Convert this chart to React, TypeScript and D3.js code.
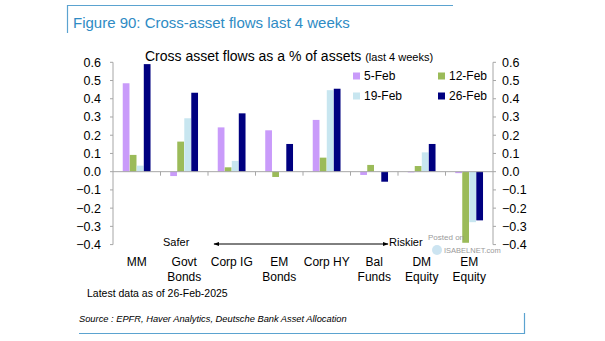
import React from "react";
import * as d3 from "d3";

const categories: string[][] = [["MM"], ["Govt", "Bonds"], ["Corp IG"], ["EM", "Bonds"], ["Corp HY"], ["Bal", "Funds"], ["DM", "Equity"], ["EM", "Equity"]];
const seriesNames = ["5-Feb", "12-Feb", "19-Feb", "26-Feb"];
const feb5 = [0.485, -0.024, 0.243, 0.227, 0.284, -0.018, -0.004, -0.008];
const feb12 = [0.092, 0.165, 0.024, -0.029, 0.077, 0.037, 0.031, -0.39];
const feb19 = [0.033, 0.293, 0.059, 0.002, 0.447, 0.002, 0.106, -0.277];
const feb26 = [0.59, 0.433, 0.32, 0.152, 0.455, -0.055, 0.152, -0.267];
const yTicks = [0.6, 0.5, 0.4, 0.3, 0.2, 0.1, 0.0, -0.1, -0.2, -0.3, -0.4];
const colors = ["#C99BFA", "#9BBB59", "#C8E6F0", "#000080"];

const W = 605, H = 341;
const FONT = "'Liberation Sans', Arial, sans-serif";

export default function App() {
  const series = [feb5, feb12, feb19, feb26];
  const left = 113, right = 493;
  const y = d3.scaleLinear().domain([-0.4, 0.6]).range([244.6, 62.3]);
  const idx = categories.map((_, i) => String(i));
  const x0 = d3.scaleBand<string>().domain(idx).range([left, right]).padding(0);
  const bw = x0.bandwidth();
  const x1 = d3.scaleBand<string>().domain(seriesNames).range([bw * 0.205, bw * 0.79]).paddingInner(0.04);
  const axisColor = "#A6A6A6";
  const fmt = d3.format(".1f");
  const y0 = y(0);

  return (
    <svg width={W} height={H} style={{ position: "absolute", left: 0, top: 0 }} fontFamily={FONT}>
      <rect width={W} height={H} fill="#fff" />
      {/* title frame */}
      <line x1={67} x2={453} y1={5.5} y2={5.5} stroke="#5BA3D0" strokeWidth={1.2} />
      <line x1={67.5} x2={67.5} y1={5} y2={33} stroke="#5BA3D0" strokeWidth={1.2} />
      <text x={73} y={28} fontSize={15} fill="#2E8BC4">Figure 90: Cross-asset flows last 4 weeks</text>

      {/* subtitle */}
      <text x={145} y={61} fontSize={14} fill="#000">
        Cross asset flows as a % of assets <tspan fontSize={11}>(last 4 weeks)</tspan>
      </text>

      {/* bars */}
      {series.map((vals, si) =>
        vals.map((v, ci) => {
          const xx = (x0(String(ci)) as number) + (x1(seriesNames[si]) as number);
          return (
            <rect key={`${si}-${ci}`} x={xx} width={x1.bandwidth()} y={Math.min(y(v), y0)} height={Math.abs(y(v) - y0)} fill={colors[si]} />
          );
        })
      )}

      {/* zero line + category ticks */}
      <line x1={left} x2={right} y1={y0} y2={y0} stroke={axisColor} strokeWidth={1} />
      {idx.slice(1).map((d) => (
        <line key={d} x1={x0(d) as number} x2={x0(d) as number} y1={y0} y2={y0 + 4} stroke={axisColor} />
      ))}

      {/* left axis */}
      <line x1={left} x2={left} y1={y(0.6)} y2={y(-0.4)} stroke={axisColor} />
      {yTicks.map((t) => (
        <g key={`l${t}`}>
          <line x1={left - 3} x2={left} y1={y(t)} y2={y(t)} stroke={axisColor} />
          <text x={101} y={y(t)} dy="0.35em" textAnchor="end" fontSize={12.5} fill="#000">{fmt(t)}</text>
        </g>
      ))}
      {/* right axis */}
      <line x1={right} x2={right} y1={y(0.6)} y2={y(-0.4)} stroke={axisColor} />
      {yTicks.map((t) => (
        <g key={`r${t}`}>
          <line x1={right} x2={right + 3} y1={y(t)} y2={y(t)} stroke={axisColor} />
          <text x={502} y={y(t)} dy="0.35em" textAnchor="start" fontSize={12.5} fill="#000">{fmt(t)}</text>
        </g>
      ))}

      {/* legend */}
      {seriesNames.map((s, i) => {
        const lx = i % 2 === 0 ? 353 : 438;
        const ly = i < 2 ? 76 : 96;
        return (
          <g key={s}>
            <rect x={lx} y={ly - 3.5} width={7} height={7} fill={colors[i]} />
            <text x={lx + 11} y={ly} dy="0.35em" fontSize={12} fill="#000">{s}</text>
          </g>
        );
      })}

      {/* safer / riskier */}
      <defs>
        <marker id="ah" viewBox="0 0 10 10" refX="9" refY="5" markerWidth="6" markerHeight="6" orient="auto-start-reverse">
          <path d="M0,1.5 L10,5 L0,8.5 Z" fill="#000" />
        </marker>
      </defs>
      <text x={163} y={242} dy="0.35em" fontSize={11} fill="#000">Safer</text>
      <line x1={214} x2={388} y1={244} y2={244} stroke="#000" strokeWidth={1} markerStart="url(#ah)" markerEnd="url(#ah)" />
      <text x={389} y={242} dy="0.35em" fontSize={11} fill="#000">Riskier</text>

      {/* watermark */}
      <text x={428} y={237} dy="0.35em" fontSize={8} fill="#9A9A9A">Posted on</text>
      <circle cx={437} cy={250} r={5} fill="#BFDDED" opacity={0.8} />
      <text x={444} y={250} dy="0.35em" fontSize={7.5} fill="#9A9A9A">ISABELNET.com</text>

      {/* category labels */}
      {categories.map((lines, i) => {
        const cx = (x0(String(i)) as number) + bw / 2;
        return (
          <text key={i} x={cx} textAnchor="middle" fontSize={12} fill="#000">
            {lines.map((l, k) => (
              <tspan key={k} x={cx} y={265.5 + k * 15.5}>{l}</tspan>
            ))}
          </text>
        );
      })}

      <text x={87} y={293} dy="0.35em" fontSize={10.5} fill="#000">Latest data as of 26-Feb-2025</text>

      {/* source frame */}
      <text x={79} y={319} dy="0.35em" fontSize={9.3} fontStyle="italic" fill="#000">Source : EPFR, Haver Analytics, Deutsche Bank Asset Allocation</text>
      <line x1={79} x2={525} y1={333.5} y2={333.5} stroke="#5BA3D0" strokeWidth={1.2} />
      <line x1={524.5} x2={524.5} y1={313} y2={334} stroke="#5BA3D0" strokeWidth={1.2} />
    </svg>
  );
}
